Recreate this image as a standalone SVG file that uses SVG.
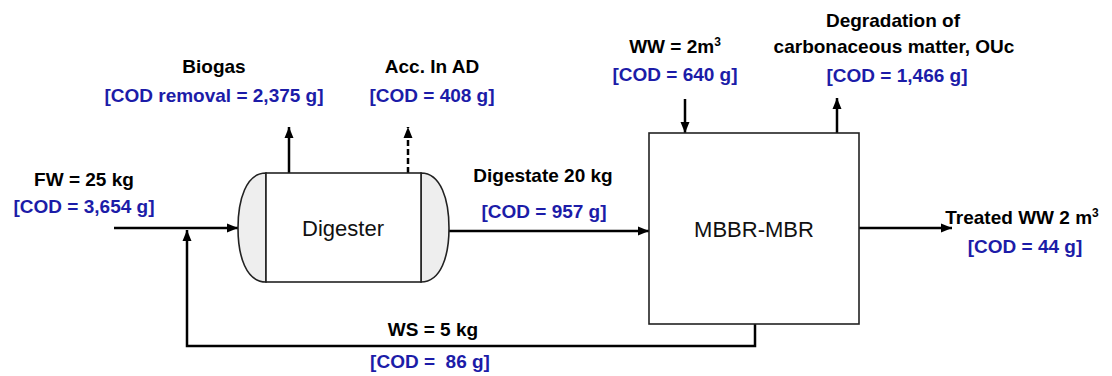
<svg xmlns="http://www.w3.org/2000/svg" width="1112" height="376" viewBox="0 0 1112 376">
<style>
.lb{font-family:"Liberation Sans",Arial,sans-serif;font-weight:bold;font-size:19px;fill:#000;text-anchor:middle}
.cod{font-family:"Liberation Sans",Arial,sans-serif;font-weight:bold;font-size:19px;fill:#1c1ca8;text-anchor:middle}
.nm{font-family:"Liberation Sans",Arial,sans-serif;font-size:22px;fill:#111;text-anchor:middle}
.ln{fill:none;stroke:#000;stroke-width:2.5}
.box{fill:#fff;stroke:#222;stroke-width:1.6}
.cap{fill:#eeeeee;stroke:#222;stroke-width:1.6}
</style>
<defs>
<marker id="ah" markerUnits="userSpaceOnUse" markerWidth="12" markerHeight="10" refX="11" refY="5" orient="auto">
<path d="M0,0.5 L11,5 L0,9.5 Z" fill="#000"/>
</marker>
</defs>
<rect width="1112" height="376" fill="#fff"/>
<g id="connectors">
<line class="ln" x1="114" y1="228" x2="238" y2="228" marker-end="url(#ah)"/>
<path class="ln" d="M755,324 V346 H187 V230" marker-end="url(#ah)"/>
<line class="ln" x1="289" y1="173" x2="289" y2="127" marker-end="url(#ah)"/>
<line class="ln" x1="408" y1="173" x2="408" y2="127" stroke-dasharray="6,3" marker-end="url(#ah)"/>
<line class="ln" x1="449" y1="231" x2="649" y2="231" marker-end="url(#ah)"/>
<line class="ln" x1="685" y1="99" x2="685" y2="133" marker-end="url(#ah)"/>
<line class="ln" x1="837" y1="133" x2="837" y2="98" marker-end="url(#ah)"/>
<line class="ln" x1="859" y1="228" x2="952" y2="228" marker-end="url(#ah)"/>
</g>
<g id="digester">
<path class="cap" d="M266,173 C246,173 238,200 238,228 C238,256 246,282 266,282 Z"/>
<path class="cap" d="M421,173 C441,173 449,200 449,228 C449,256 441,282 421,282 Z"/>
<rect class="box" x="266" y="173" width="155" height="109"/>
<text class="nm" x="343" y="236">Digester</text>
</g>
<g id="mbbr">
<rect class="box" x="649" y="133" width="210" height="191"/>
<text class="nm" x="754" y="237">MBBR-MBR</text>
</g>
<g id="fw">
<text class="lb" x="84" y="186">FW = 25 kg</text>
<text class="cod" x="84" y="213">[COD = 3,654 g]</text>
</g>
<g id="biogas">
<text class="lb" x="214" y="73">Biogas</text>
<text class="cod" x="214" y="102">[COD removal = 2,375 g]</text>
</g>
<g id="acc">
<text class="lb" x="432" y="73">Acc. In AD</text>
<text class="cod" x="432" y="102">[COD = 408 g]</text>
</g>
<g id="digestate">
<text class="lb" x="543" y="182">Digestate 20 kg</text>
<text class="cod" x="544" y="218">[COD = 957 g]</text>
</g>
<g id="ww">
<text class="lb" x="675" y="53">WW = 2m<tspan font-size="12" dy="-7">3</tspan></text>
<text class="cod" x="675" y="81">[COD = 640 g]</text>
</g>
<g id="degradation">
<text class="lb" x="893" y="27">Degradation of</text>
<text class="lb" x="894" y="53">carbonaceous matter, OUc</text>
<text class="cod" x="897" y="82">[COD = 1,466 g]</text>
</g>
<g id="treated">
<text class="lb" x="1022" y="224">Treated WW 2 m<tspan font-size="12" dy="-7">3</tspan></text>
<text class="cod" x="1025" y="253">[COD = 44 g]</text>
</g>
<g id="ws">
<text class="lb" x="433" y="336">WS = 5 kg</text>
<text class="cod" x="430" y="368" xml:space="preserve">[COD =  86 g]</text>
</g>
</svg>
